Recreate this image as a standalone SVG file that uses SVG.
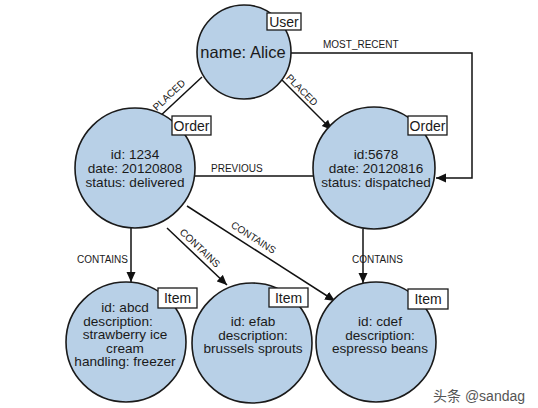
<svg xmlns="http://www.w3.org/2000/svg" width="538" height="408" viewBox="0 0 538 408">
<defs>
<marker id="arr" viewBox="0 0 10 10" refX="10" refY="5" markerWidth="10" markerHeight="10" markerUnits="userSpaceOnUse" orient="auto">
<path d="M0,0.5 L10,5 L0,9.5 z" fill="#111"/>
</marker>
</defs>
<style>
.node{fill:#b8d0e7;stroke:#1a1a1a;stroke-width:1.6}
.box{fill:#fff;stroke:#1a1a1a;stroke-width:1.3}
.t{font-family:"Liberation Sans",Arial,sans-serif;font-size:14px;fill:#1a1a1a;text-anchor:middle}
.it{font-size:13.6px}
.big{font-size:16.5px}
.lbl{font-family:"Liberation Sans",Arial,sans-serif;font-size:10px;fill:#1a1a1a}
.e{fill:none;stroke:#111;stroke-width:1.5}
.wm{font-family:"Liberation Sans","Noto Sans CJK SC",sans-serif;font-size:14px;fill:#555}
</style>
<rect width="538" height="408" fill="#fff"/>
<g id="connectors">
<line class="e" x1="202" y1="77" x2="158" y2="118"/>
<line class="e" x1="282" y1="80" x2="332" y2="130" marker-end="url(#arr)"/>
<polyline class="e" points="291,53 472,53 472,178 436,178" marker-end="url(#arr)"/>
<line class="e" x1="195" y1="176" x2="313" y2="176"/>
<line class="e" x1="131" y1="228" x2="131" y2="282" marker-end="url(#arr)"/>
<line class="e" x1="167" y1="228" x2="227" y2="285" marker-end="url(#arr)"/>
<line class="e" x1="187" y1="206" x2="335" y2="301" marker-end="url(#arr)"/>
<line class="e" x1="363" y1="229" x2="363" y2="283" marker-end="url(#arr)"/>
<text class="lbl" text-anchor="middle" transform="translate(169,95) rotate(-43)" y="3.5">PLACED</text>
<text class="lbl" text-anchor="middle" transform="translate(302,90) rotate(45)" y="3.5">PLACED</text>
<text class="lbl" x="323" y="48">MOST_RECENT</text>
<text class="lbl" x="211" y="172">PREVIOUS</text>
<text class="lbl" x="128" y="263" text-anchor="end">CONTAINS</text>
<text class="lbl" text-anchor="middle" transform="translate(200,248) rotate(43.5)" y="3.5">CONTAINS</text>
<text class="lbl" text-anchor="middle" transform="translate(253.5,237.5) rotate(32.7)" y="3.5">CONTAINS</text>
<text class="lbl" x="352" y="263">CONTAINS</text>
</g>
<g id="user">
<circle class="node" cx="244" cy="52" r="47"/>
<rect class="box" x="267" y="13" width="34" height="17"/>
<text class="t" x="284" y="27">User</text>
<text class="t big" x="243" y="58">name: Alice</text>
</g>
<g id="order1234">
<circle class="node" cx="135" cy="168" r="60"/>
<rect class="box" x="172" y="116" width="39" height="19"/>
<text class="t" x="191.5" y="130.5">Order</text>
<text class="t it" x="135" y="159">id: 1234</text>
<text class="t it" x="135" y="173">date: 20120808</text>
<text class="t it" x="135" y="187">status: delivered</text>
</g>
<g id="order5678">
<circle class="node" cx="374" cy="168" r="61"/>
<rect class="box" x="408" y="116" width="39" height="19"/>
<text class="t" x="427.5" y="130.5">Order</text>
<text class="t it" x="376" y="159">id:5678</text>
<text class="t it" x="376" y="173">date: 20120816</text>
<text class="t it" x="376" y="187">status: dispatched</text>
</g>
<g id="item-abcd">
<circle class="node" cx="126" cy="342" r="60"/>
<rect class="box" x="158" y="288" width="39" height="20"/>
<text class="t" x="177.5" y="303">Item</text>
<text class="t it" x="125" y="312">id: abcd</text>
<text class="t it" x="118" y="325.5">description:</text>
<text class="t it" x="125" y="339">strawberry ice</text>
<text class="t it" x="125" y="352.5">cream</text>
<text class="t it" x="125" y="366">handling: freezer</text>
</g>
<g id="item-efab">
<circle class="node" cx="252" cy="343" r="60"/>
<rect class="box" x="269" y="288" width="39" height="19"/>
<text class="t" x="288.5" y="302.5">Item</text>
<text class="t it" x="253" y="326">id: efab</text>
<text class="t it" x="253" y="339.5">description:</text>
<text class="t it" x="253" y="353">brussels sprouts</text>
</g>
<g id="item-cdef">
<circle class="node" cx="376" cy="342" r="60"/>
<rect class="box" x="408" y="289" width="40" height="20"/>
<text class="t" x="428" y="304">Item</text>
<text class="t it" x="380" y="326">id: cdef</text>
<text class="t it" x="380" y="339.5">description:</text>
<text class="t it" x="380" y="353">espresso beans</text>
</g>
<text class="wm" x="433" y="401">头条 @sandag</text>
</svg>
